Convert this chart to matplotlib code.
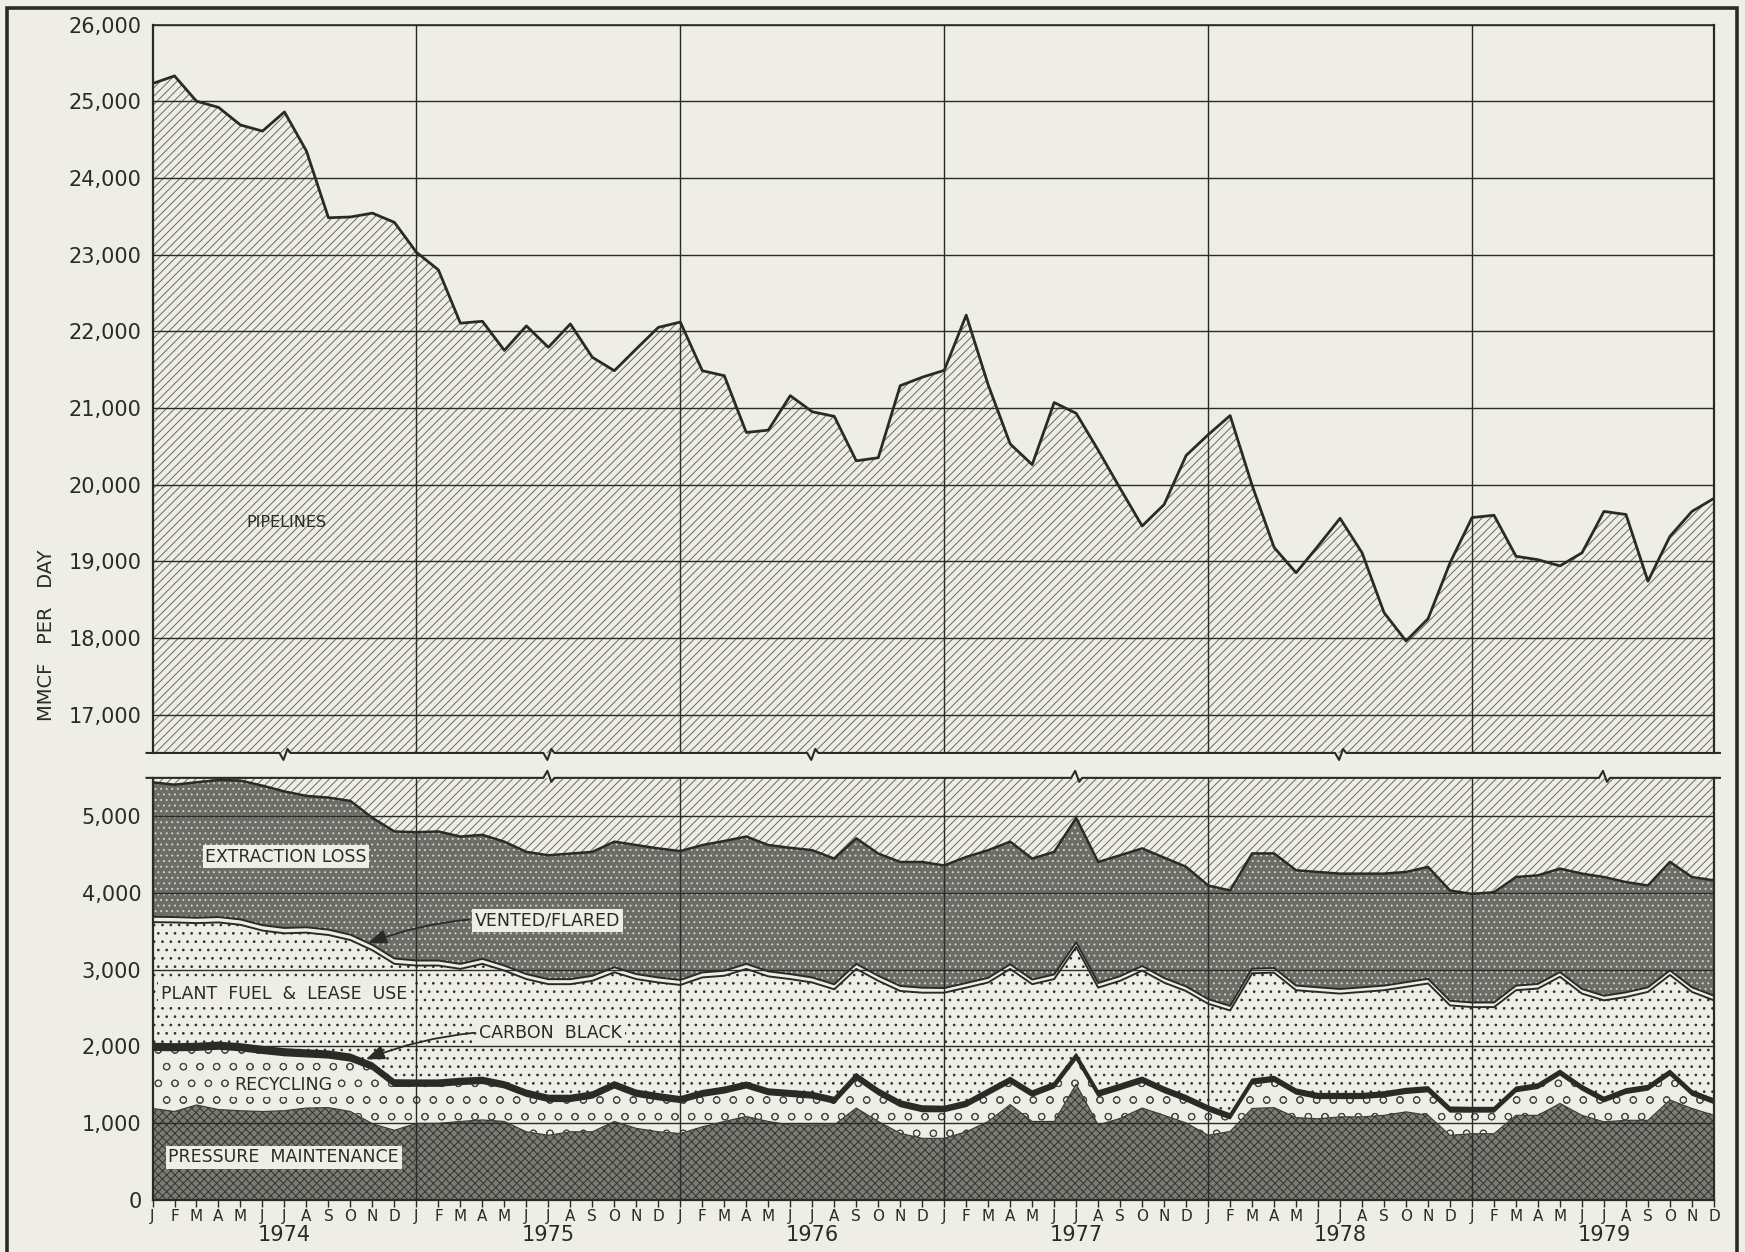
import matplotlib
matplotlib.use("Agg")
import matplotlib.pyplot as plt
import matplotlib.transforms as mtransforms
from matplotlib.patches import Rectangle
import numpy as np

plt.rcParams['font.family'] = ['DejaVu Sans']
plt.rcParams['hatch.linewidth'] = 0.7

PAPER = '#eeede6'
INK = '#2a2a27'

# Monthly values, Jan 1974 .. Dec 1979 (MMCF per day).
month_letters = ['J', 'F', 'M', 'A', 'M', 'J', 'J', 'A', 'S', 'O', 'N', 'D'] * 6
years = ['1974', '1975', '1976', '1977', '1978', '1979']

# Top of the whole stack (pipelines upper edge).
total = [25230, 25330, 25000, 24920, 24690, 24610, 24860, 24350, 23480, 23490, 23540, 23420,
         23030, 22800, 22105, 22130, 21750, 22070, 21790, 22095, 21660, 21485, 21770, 22050,
         22120, 21485, 21420, 20680, 20710, 21160, 20950, 20890, 20310, 20350, 21290, 21400,
         21490, 22210, 21300, 20530, 20260, 21070, 20930, 20450, 19950, 19460, 19740, 20380,
         20650, 20900, 19990, 19180, 18850, 19200, 19560, 19110, 18330, 17960, 18250, 18980,
         19570, 19600, 19065, 19020, 18940, 19110, 19650, 19610, 18740, 19325, 19650, 19820]

# Upper edge of extraction loss.
extraction_top = [5442, 5411, 5442, 5473, 5465, 5398, 5323, 5265, 5243, 5199, 4978, 4801,
                  4792, 4801, 4735, 4757, 4668, 4535, 4491, 4513, 4535, 4668, 4624, 4580,
                  4545, 4624, 4677, 4735, 4624, 4588, 4557, 4447, 4712, 4513, 4403, 4403,
                  4358, 4469, 4557, 4668, 4447, 4535, 4978, 4403, 4491, 4580, 4460, 4340,
                  4097, 4031, 4515, 4515, 4295, 4273, 4251, 4251, 4251, 4273, 4339, 4031,
                  3987, 4009, 4207, 4229, 4317, 4251, 4207, 4141, 4097, 4405, 4207, 4163]

# Vented / flared (thin band sitting on plant fuel).
vented_flared = [70, 70, 70, 70, 70, 70, 70, 70, 70, 70, 70, 70,
                 65, 65, 65, 65, 65, 65, 65, 65, 65, 65, 65, 65,
                 65, 65, 65, 65, 65, 65, 65, 65, 65, 65, 65, 65,
                 60, 60, 60, 60, 60, 60, 60, 60, 60, 60, 60, 60,
                 60, 60, 60, 60, 60, 60, 60, 60, 60, 60, 60, 60,
                 60, 60, 60, 60, 60, 60, 60, 60, 60, 60, 60, 60]

# Upper edge of plant fuel & lease use.
plant_fuel_top = [3619, 3615, 3606, 3615, 3584, 3509, 3473, 3482, 3451, 3385, 3252, 3075,
                  3053, 3053, 3009, 3075, 2987, 2876, 2810, 2810, 2854, 2965, 2876, 2832,
                  2800, 2898, 2920, 3009, 2912, 2876, 2832, 2743, 3009, 2854, 2721, 2699,
                  2699, 2765, 2832, 3009, 2810, 2876, 3296, 2765, 2854, 2987, 2830, 2720,
                  2555, 2467, 2952, 2960, 2731, 2709, 2687, 2709, 2731, 2775, 2819, 2533,
                  2511, 2511, 2731, 2753, 2907, 2687, 2599, 2643, 2709, 2930, 2709, 2599]

# Carbon black (thin black band sitting on recycling).
carbon_black = [85, 85, 85, 85, 85, 85, 85, 85, 85, 85, 80, 80,
                75, 75, 75, 75, 75, 75, 75, 75, 75, 75, 75, 75,
                70, 70, 70, 70, 70, 70, 70, 70, 70, 70, 70, 70,
                65, 65, 65, 65, 65, 65, 65, 65, 65, 65, 65, 65,
                60, 60, 60, 60, 60, 60, 60, 60, 60, 60, 60, 60,
                55, 55, 55, 55, 55, 55, 55, 55, 55, 55, 55, 55]

# Upper edge of recycling.
recycling_top = [1950, 1945, 1950, 1965, 1945, 1910, 1880, 1865, 1850, 1810, 1700, 1480,
                 1482, 1482, 1504, 1518, 1460, 1350, 1283, 1283, 1327, 1460, 1350, 1305,
                 1270, 1350, 1394, 1460, 1372, 1350, 1327, 1261, 1571, 1372, 1217, 1150,
                 1150, 1217, 1372, 1527, 1350, 1460, 1836, 1350, 1438, 1530, 1400, 1290,
                 1160, 1057, 1510, 1545, 1380, 1322, 1322, 1322, 1344, 1388, 1410, 1145,
                 1145, 1145, 1410, 1454, 1630, 1432, 1278, 1388, 1432, 1630, 1366, 1256]

# Upper edge of pressure maintenance.
pressure_top = [1190, 1150, 1235, 1175, 1160, 1150, 1160, 1195, 1200, 1150, 990, 905,
                995, 995, 1020, 1040, 1020, 885, 840, 885, 885, 1020, 930, 885,
                863, 950, 1020, 1085, 1020, 975, 975, 975, 1195, 1020, 865, 800,
                800, 885, 1020, 1240, 1020, 1020, 1505, 975, 1060, 1195, 1100, 1000,
                840, 890, 1190, 1200, 1070, 1055, 1080, 1080, 1100, 1145, 1100, 840,
                860, 860, 1100, 1100, 1255, 1100, 1015, 1035, 1035, 1300, 1190, 1100]

top_ticks = list(range(17000, 27000, 1000))
bottom_ticks = list(range(0, 6000, 1000))
year_starts = [12, 24, 36, 48, 60]
top_breaks = [6, 18, 30, 54]
bottom_breaks = [18, 42, 66]

x = np.arange(len(total))
total = np.array(total)
extraction_top = np.array(extraction_top)
plant_fuel_top = np.array(plant_fuel_top)
vented_top = plant_fuel_top + np.array(vented_flared)
recycling_top = np.array(recycling_top)
carbon_top = recycling_top + np.array(carbon_black)
pressure_top = np.array(pressure_top)

fig = plt.figure(figsize=(17.45, 12.52), dpi=100, facecolor=PAPER)
ax_top = fig.add_axes([0.0874, 0.3986, 0.8948, 0.5818])
ax_bot = fig.add_axes([0.0874, 0.0418, 0.8948, 0.3369])


def style_axes(ax, ticks, ylim):
    ax.set_facecolor(PAPER)
    ax.set_xlim(0, 71)
    ax.set_ylim(*ylim)
    ax.set_yticks(ticks)
    ax.set_yticklabels([f"{t:,}" for t in ticks])
    ax.tick_params(axis='y', length=0, pad=8, labelsize=15, colors=INK)
    for t in ticks:
        if t > ylim[0]:
            ax.axhline(t, color=INK, lw=1.0, zorder=2.5)
    for xs in year_starts:
        ax.axvline(xs, color=INK, lw=1.0, zorder=2.5)
    for side in ['left', 'right']:
        ax.spines[side].set_color(INK)
        ax.spines[side].set_linewidth(1.6)
        ax.spines[side].set_zorder(4)


def break_line(ax, yfrac, notches, sign):
    # Horizontal edge with the small zig-zag break marks.
    bb = ax.get_position()
    wpx = bb.width * fig.get_figwidth() * fig.dpi
    hpx = bb.height * fig.get_figheight() * fig.dpi
    pts = [(-6.0 / wpx, yfrac)]
    for n in notches:
        f = n / 71.0
        for dx, dy in [(-5, 0), (-1, -7 * sign), (3, 4 * sign), (6, 0)]:
            pts.append((f + dx / wpx, yfrac + dy / hpx))
    pts.append((1 + 6.0 / wpx, yfrac))
    px, py = zip(*pts)
    ax.plot(px, py, color=INK, lw=1.5, transform=ax.transAxes, clip_on=False, zorder=5)


# ---- top panel: pipelines ----
style_axes(ax_top, top_ticks, (16500, 26000))
ax_top.spines['top'].set_color(INK)
ax_top.spines['top'].set_linewidth(1.2)
ax_top.spines['bottom'].set_visible(False)
ax_top.set_xticks([])
ax_top.fill_between(x, 16500, total, facecolor=PAPER, edgecolor='#6a6a64',
                    hatch='////', linewidth=0, zorder=1)
ax_top.plot(x, total, color=INK, lw=2.0, zorder=3)
break_line(ax_top, 0.0, top_breaks, 1)
ax_top.text(6.1, 19500, 'PIPELINES', ha='center', va='center', fontsize=11.5, color=INK,
            zorder=6)

# ---- bottom panel: the other dispositions ----
style_axes(ax_bot, bottom_ticks, (0, 5500))
ax_bot.spines['top'].set_visible(False)
ax_bot.spines['bottom'].set_color(INK)
ax_bot.spines['bottom'].set_linewidth(1.6)

ax_bot.fill_between(x, extraction_top, 5500, facecolor=PAPER, edgecolor='#6a6a64',
                    hatch='////', linewidth=0, zorder=1)
ax_bot.fill_between(x, vented_top, extraction_top, facecolor='#6d6d68', edgecolor='#d2d2c9',
                    hatch='...', linewidth=0, zorder=1)
ax_bot.fill_between(x, plant_fuel_top, vented_top, facecolor=PAPER, linewidth=0, zorder=1)
ax_bot.fill_between(x, carbon_top, plant_fuel_top, facecolor=PAPER, edgecolor='#2e2e2b',
                    hatch='..', linewidth=0, zorder=1)
ax_bot.fill_between(x, recycling_top, carbon_top, facecolor=INK, linewidth=0, zorder=1)
ax_bot.fill_between(x, pressure_top, recycling_top, facecolor=PAPER, edgecolor='#4a4a45',
                    hatch='o', linewidth=0, zorder=1)
ax_bot.fill_between(x, 0, pressure_top, facecolor='#7c7c76', edgecolor='#34342f',
                    hatch='xxxx', linewidth=0, zorder=1)

ax_bot.plot(x, extraction_top, color=INK, lw=1.8, zorder=3)
ax_bot.plot(x, vented_top, color=INK, lw=1.4, zorder=3)
ax_bot.plot(x, plant_fuel_top, color=INK, lw=1.4, zorder=3)
ax_bot.plot(x, carbon_top, color=INK, lw=1.2, zorder=3)
ax_bot.plot(x, recycling_top, color=INK, lw=1.2, zorder=3)
ax_bot.plot(x, pressure_top, color='#3a3a36', lw=0.8, zorder=3)
break_line(ax_bot, 1.0, bottom_breaks, -1)

ax_bot.set_xticks(x)
ax_bot.set_xticklabels(month_letters)
ax_bot.tick_params(axis='x', length=5, width=1.0, pad=2, labelsize=11, colors=INK,
                   direction='out')
blend = mtransforms.blended_transform_factory(ax_bot.transData, ax_bot.transAxes)
for k, yr in enumerate(years):
    ax_bot.text(6 + 12 * k, -0.084, yr, transform=blend, ha='center', va='center',
                fontsize=15, color=INK)

box = dict(boxstyle='square,pad=0.15', facecolor=PAPER, edgecolor='none')
lab = 12.5
ax_bot.text(6.07, 4470, 'EXTRACTION LOSS', ha='center', va='center', fontsize=lab,
            color=INK, bbox=box, zorder=6)
ax_bot.text(5.97, 2685, 'PLANT  FUEL  &  LEASE  USE', ha='center', va='center', fontsize=lab,
            color=INK, bbox=box, zorder=6)
ax_bot.text(5.97, 1495, 'RECYCLING', ha='center', va='center', fontsize=lab,
            color=INK, bbox=box, zorder=6)
ax_bot.text(5.97, 552, 'PRESSURE  MAINTENANCE', ha='center', va='center', fontsize=lab,
            color=INK, bbox=box, zorder=6)
arrow = dict(arrowstyle='-|>,head_length=0.9,head_width=0.35', color=INK, lw=1.3,
             connectionstyle='arc3,rad=0.12', shrinkA=2, shrinkB=0)
ax_bot.annotate('VENTED/FLARED', xy=(9.8, 3345), xytext=(17.97, 3643), ha='center',
                va='center', fontsize=lab, color=INK, bbox=box, arrowprops=arrow, zorder=6)
ax_bot.annotate('CARBON  BLACK', xy=(9.7, 1830), xytext=(18.1, 2177), ha='center',
                va='center', fontsize=lab, color=INK, bbox=box, arrowprops=arrow, zorder=6)

fig.text(0.0268, 0.493, 'MMCF   PER   DAY', rotation=90, ha='center', va='center',
         fontsize=14, color=INK)

# Sheet border (its lower edge runs off the page).
fig.add_artist(Rectangle((0.0038, -0.01), 0.9917, 1.0036, transform=fig.transFigure,
                         fill=False, lw=2.6, edgecolor=INK))

fig.savefig('out.png', dpi=100, facecolor=PAPER)
